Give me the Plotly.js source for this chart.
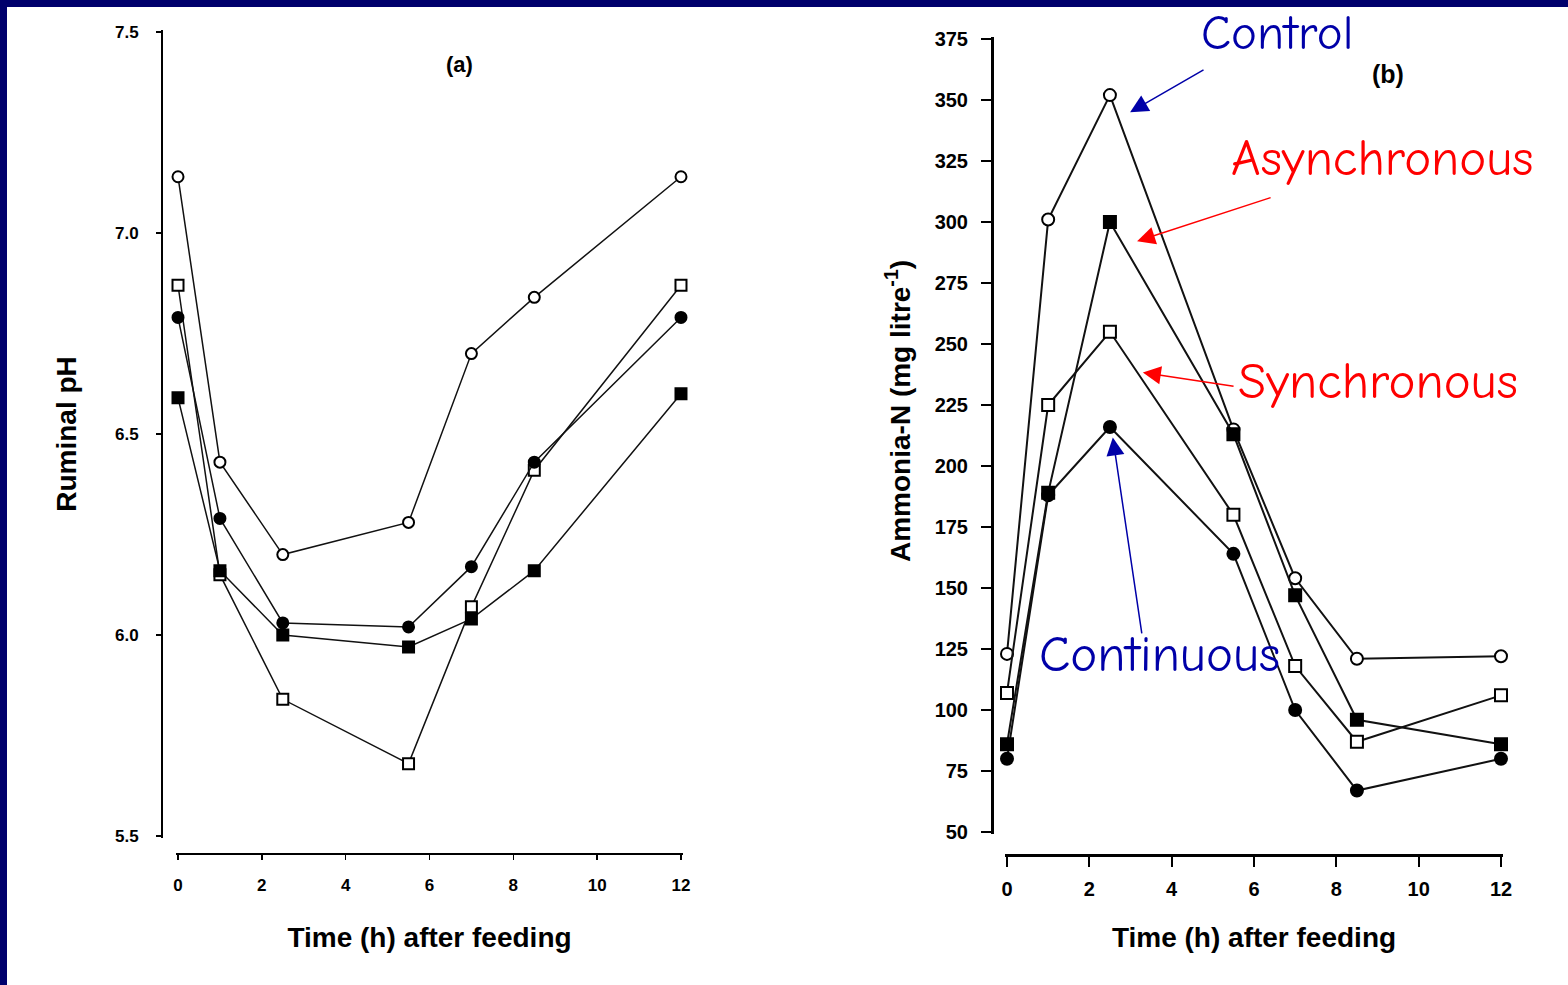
<!DOCTYPE html>
<html>
<head>
<meta charset="utf-8">
<script src="https://cdn.plot.ly/plotly-3.0.1.min.js"></script>
<style>
  html, body { margin: 0; padding: 0; background: #ffffff; }
  #chart { width: 1568px; height: 985px; }
</style>
</head>
<body>
<div id="chart"></div>
<script>
// Sampling times (h after feeding)
const hours = [0, 1, 2.5, 5.5, 7, 8.5, 12];
const treatments = ['Control', 'Asynchronous', 'Synchronous', 'Continuous'];

// (a) Ruminal pH
const phControl      = [7.14, 6.43, 6.20, 6.28, 6.70, 6.84, 7.14];
const phAsynchronous = [6.59, 6.16, 6.00, 5.97, 6.04, 6.16, 6.60];
const phSynchronous  = [6.87, 6.15, 5.84, 5.68, 6.07, 6.41, 6.87];
const phContinuous   = [6.79, 6.29, 6.03, 6.02, 6.17, 6.43, 6.79];

// (b) Ammonia-N (mg/litre)
const nhControl      = [123, 301, 352, 215, 154, 121, 122];
const nhAsynchronous = [86, 189, 300, 213, 147, 96, 86];
const nhSynchronous  = [107, 225, 255, 180, 118, 87, 106];
const nhContinuous   = [80, 188, 216, 164, 100, 67, 80];

const xTicks = [0, 2, 4, 6, 8, 10, 12];
const phTicks = [5.5, 6.0, 6.5, 7.0, 7.5];
const phTickText = ['5.5', '6.0', '6.5', '7.0', '7.5'];
const nhTicks = [50, 75, 100, 125, 150, 175, 200, 225, 250, 275, 300, 325, 350, 375];

const W = 1568, H = 985;
const fx = px => px / W;          // pixel column -> paper x
const fy = py => 1 - py / H;      // pixel row -> paper y

// marker styles per treatment
const styles = {
  Control:      { symbol: 'circle', fill: '#ffffff' },
  Asynchronous: { symbol: 'square', fill: '#000000' },
  Synchronous:  { symbol: 'square', fill: '#ffffff' },
  Continuous:   { symbol: 'circle', fill: '#000000' }
};

function series(name, y, xa, ya, lw, ms) {
  const s = styles[name];
  return {
    type: 'scatter', mode: 'lines+markers', name: name,
    x: hours, y: y, xaxis: xa, yaxis: ya, cliponaxis: false,
    line: { color: '#111111', width: lw },
    marker: { symbol: s.symbol, size: ms, color: s.fill, line: { color: '#000000', width: 2 } },
    showlegend: false
  };
}

const data = [
  series('Control', phControl, 'x', 'y', 1.5, 11),
  series('Synchronous', phSynchronous, 'x', 'y', 1.5, 11),
  series('Continuous', phContinuous, 'x', 'y', 1.5, 11),
  series('Asynchronous', phAsynchronous, 'x', 'y', 1.5, 11),
  series('Control', nhControl, 'x2', 'y2', 2, 12),
  series('Synchronous', nhSynchronous, 'x2', 'y2', 2, 12),
  series('Continuous', nhContinuous, 'x2', 'y2', 2, 12),
  series('Asynchronous', nhAsynchronous, 'x2', 'y2', 2, 12)
];

const sans = 'Liberation Sans, Arial, sans-serif';
const tickFontA = { family: sans, size: 17, color: '#000', weight: 'bold' };
const tickFontB = { family: sans, size: 20, color: '#000', weight: 'bold' };
const titleFont = { family: sans, size: 28, color: '#000', weight: 'bold' };

const comic = '"Comic Sans MS", "Comic Neue", "DejaVu Sans", sans-serif';
const blue = '#0000a8', red = '#ff0000';

function label(text, x, y, color, size) {
  return { xref: 'paper', yref: 'paper', x: fx(x), y: fy(y), xanchor: 'center', yanchor: 'middle',
           text: text, showarrow: false, font: { family: comic, size: size || 51, color: color } };
}
function pointer(hx, hy, tx, ty, color) {
  return { xref: 'x2', yref: 'y2', axref: 'x2', ayref: 'y2', x: hx, y: hy, ax: tx, ay: ty,
           text: '', showarrow: true, arrowhead: 2, arrowsize: 2.4, arrowwidth: 1.5,
           arrowcolor: color, standoff: 0, startstandoff: 0 };
}

const layout = {
  width: W, height: H,
  margin: { l: 0, r: 0, t: 0, b: 0 },
  paper_bgcolor: '#ffffff', plot_bgcolor: 'rgba(0,0,0,0)',
  showlegend: false,
  xaxis: {
    domain: [fx(176), fx(683)], range: [-0.048, 12.048], anchor: 'free', position: fy(853),
    showline: true, linecolor: '#000', linewidth: 1.5, showgrid: false, zeroline: false,
    tickvals: xTicks, ticks: 'outside', ticklen: 5, tickwidth: 1.5, tickcolor: '#000',
    tickfont: tickFontA, ticklabelstandoff: 11,
    title: { text: 'Time (h) after feeding', font: titleFont, standoff: 33 }
  },
  yaxis: {
    domain: [fy(838), fy(30)], range: [5.495, 7.505], anchor: 'free', position: fx(161),
    showline: true, linecolor: '#000', linewidth: 1.5, showgrid: false, zeroline: false,
    tickvals: phTicks, ticktext: phTickText, ticks: 'outside', ticklen: 5, tickwidth: 1.5, tickcolor: '#000',
    tickfont: tickFontA, ticklabelstandoff: 14,
    title: { text: 'Ruminal pH', font: titleFont, standoff: 28 }
  },
  xaxis2: {
    domain: [fx(1005), fx(1503)], range: [-0.0486, 12.0486], anchor: 'free', position: fy(855),
    showline: true, linecolor: '#000', linewidth: 2.5, showgrid: false, zeroline: false,
    tickvals: xTicks, ticks: 'outside', ticklen: 10, tickwidth: 2, tickcolor: '#000',
    tickfont: tickFontB, ticklabelstandoff: 5,
    title: { text: 'Time (h) after feeding', font: titleFont, standoff: 28 }
  },
  yaxis2: {
    domain: [fy(834), fy(37)], range: [49.18, 375.82], anchor: 'free', position: fx(992),
    showline: true, linecolor: '#000', linewidth: 2.5, showgrid: false, zeroline: false,
    tickvals: nhTicks, ticks: 'outside', ticklen: 10, tickwidth: 2, tickcolor: '#000',
    tickfont: tickFontB, ticklabelstandoff: 9
  },
  shapes: [
    // slide frame: navy bands along the top and left edges
    { type: 'rect', xref: 'paper', yref: 'paper', x0: 0, x1: 1, y0: fy(7), y1: 1,
      fillcolor: '#00006c', line: { width: 0 }, layer: 'below' },
    { type: 'rect', xref: 'paper', yref: 'paper', x0: 0, x1: fx(7), y0: 0, y1: 1,
      fillcolor: '#00006c', line: { width: 0 }, layer: 'below' }
  ],
  annotations: [
    // y title of panel (b), set a little above the axis middle
    { xref: 'paper', yref: 'paper', x: fx(898), y: fy(411), xanchor: 'center', yanchor: 'middle',
      textangle: -90, text: 'Ammonia-N (mg litre<sup>-1</sup>)', showarrow: false, font: titleFont },
    { xref: 'paper', yref: 'paper', x: fx(459), y: fy(64), xanchor: 'center', yanchor: 'middle',
      text: '(a)', showarrow: false, font: { family: sans, size: 22, color: '#000', weight: 'bold' } },
    { xref: 'paper', yref: 'paper', x: fx(1388), y: fy(74), xanchor: 'center', yanchor: 'middle',
      text: '(b)', showarrow: false, font: { family: sans, size: 25, color: '#000', weight: 'bold' } },
    label(treatments[0], 1277, 33, blue, 49),
    label(treatments[1], 1382, 158, red),
    label(treatments[2], 1378, 381, red),
    label(treatments[3], 1159, 654, blue),
    pointer(2.99, 345, 4.81, 362.7, blue),
    pointer(3.16, 292.1, 6.44, 310.2, red),
    pointer(3.30, 238.3, 5.54, 232.6, red),
    pointer(2.57, 211.7, 3.28, 130.8, blue)
  ]
};

Plotly.newPlot('chart', data, layout, { displayModeBar: false, staticPlot: true });
</script>
</body>
</html>
